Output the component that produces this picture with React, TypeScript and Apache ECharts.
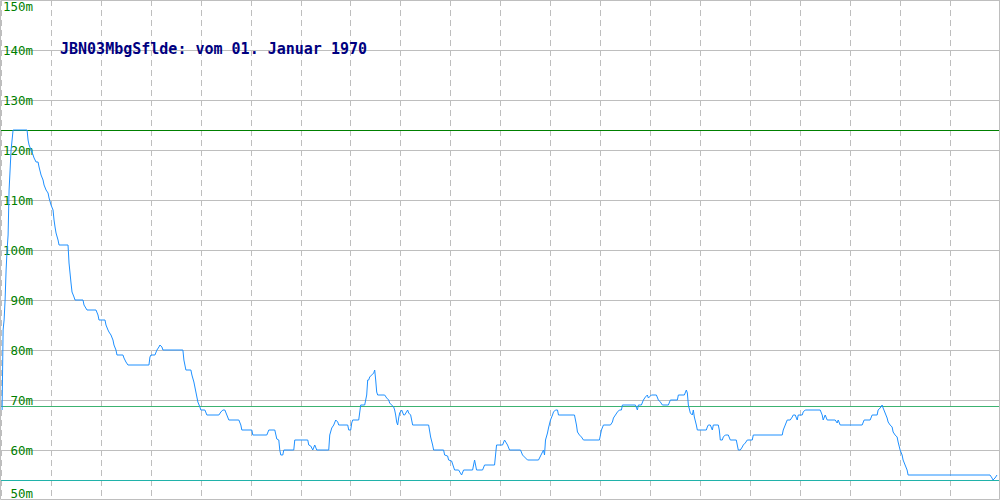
import React, { useEffect, useRef } from "react";
import * as echarts from "echarts";

const titleText = "JBN03MbgSflde: vom 01. Januar 1970";

const yTicks = [50, 60, 70, 80, 90, 100, 110, 120, 130, 140, 150];
const unitSuffix = "m";

// time index of each sample
const times = [
  1, 2, 3, 4, 5, 6, 7, 8, 9, 10, 11, 12, 26, 27, 28, 30, 32, 33, 35, 37, 38, 40, 42, 43, 45, 47, 48, 50,
  52, 53, 54, 55, 57, 58, 67, 68, 69, 70, 71, 73, 74, 82, 83, 86, 95, 97, 98, 104, 105, 107, 108, 110,
  112, 113, 115, 116, 122, 123, 125, 127, 148, 149, 150, 154, 156, 158, 159, 161, 162, 182, 183, 185,
  190, 191, 193, 194, 195, 196, 197, 199, 200, 204, 206, 218, 220, 222, 224, 226, 228, 238, 240, 241,
  251, 252, 266, 268, 274, 276, 278, 279, 280, 282, 283, 293, 294, 307, 308, 310, 312, 314, 316, 328,
  329, 331, 333, 335, 337, 338, 347, 348, 350, 351, 352, 358, 360, 364, 366, 367, 368, 369, 371, 373,
  374, 375, 376, 377, 384, 386, 388, 389, 391, 393, 394, 395, 396, 397, 398, 399, 401, 403, 404, 407,
  408, 410, 412, 428, 430, 432, 433, 443, 444, 447, 448, 451, 453, 454, 458, 461, 463, 472, 474, 476,
  482, 484, 494, 496, 502, 504, 507, 509, 520, 522, 524, 527, 538, 542, 543, 544, 545, 547, 548, 550,
  552, 553, 555, 557, 558, 574, 576, 577, 579, 581, 583, 599, 601, 603, 610, 612, 613, 615, 617, 619,
  621, 622, 635, 637, 638, 641, 643, 645, 647, 648, 651, 656, 658, 660, 662, 668, 670, 677, 678, 684,
  686, 687, 688, 690, 692, 693, 694, 696, 697, 706, 707, 708, 710, 712, 713, 718, 719, 720, 722, 723,
  725, 728, 730, 736, 737, 738, 740, 742, 743, 745, 747, 752, 753, 782, 783, 785, 787, 790, 792, 793,
  795, 797, 798, 802, 803, 805, 820, 822, 823, 825, 827, 835, 837, 838, 840, 862, 864, 870, 872, 877,
  878, 880, 882, 883, 885, 887, 888, 890, 892, 893, 895, 897, 898, 900, 902, 903, 905, 907, 908, 990,
  992, 993, 995, 997,
];

// elevation in metres
const elevation = [
  68, 84, 86, 90, 96, 100, 103, 112, 116, 120, 122, 124, 124, 122, 121, 120, 119, 118.4, 117.6, 117.6,
  116.6, 115, 114, 113, 112, 111.4, 110.4, 109, 108, 106, 104.6, 103.4, 102, 101, 101, 97.4, 95.4, 93.4,
  91.6, 90.6, 90, 90, 89, 88, 88, 87, 86, 86, 85, 84, 83.6, 83, 82, 81, 80, 79, 79, 78.4, 77.6, 77, 77,
  78.6, 79, 79, 80, 80.6, 81, 80.6, 80, 80, 78, 76, 76, 75, 73.6, 72.6, 71.6, 70.6, 69.6, 68.6, 68, 68,
  67, 67, 67.6, 68, 68, 67, 66, 66, 65, 64, 64, 63, 63, 64, 64, 62.2, 62, 60, 59, 59, 60, 60, 62, 62,
  61, 60.8, 60, 61, 60, 60, 63, 64.4, 65, 66, 65.6, 65, 65, 64, 64, 65.4, 66, 66, 69, 69, 71, 74, 74,
  74.6, 75, 75.4, 76, 74, 71.6, 71, 71, 70.4, 70, 69.4, 69, 68.6, 68, 67, 65.6, 65, 66.4, 67.4, 68, 67,
  67, 68, 67.4, 67, 65, 65, 62.6, 61, 60, 60, 59, 58.8, 58, 57.8, 56.6, 56, 56, 55, 56, 56, 58, 56, 56,
  57, 57, 61, 61, 62, 61, 60, 60, 59, 58.6, 58, 58, 59.6, 60, 59, 62, 63.4, 64.4, 66, 67, 67.6, 68, 68,
  67, 67, 65, 63.6, 63, 62.6, 62, 62, 64, 65, 65, 65.6, 66.4, 67, 67.6, 68, 68, 69, 69, 68, 69, 69, 70,
  70.6, 71, 70.4, 71, 71, 70, 69.6, 69, 69, 70, 70, 71, 71, 72, 71.4, 69, 67.4, 67, 68, 66.6, 65, 64,
  64, 64.6, 65, 65, 64, 65, 65, 64, 62, 62, 62.6, 63, 63, 62, 62, 61, 60, 60, 60.6, 61, 61.4, 62, 62,
  63, 63, 64, 65, 66, 66, 66.6, 67, 67, 66, 67, 67, 67.6, 68, 68, 67, 66, 67, 66, 66, 65.4, 66, 65, 65,
  66, 66, 67, 67, 68, 68.4, 69, 68.4, 67.4, 66.4, 65.6, 65, 64.6, 63.6, 63, 62.6, 61.6, 60, 59, 58, 57,
  56, 55, 55, 54.4, 54, 54.4, 55,
];

// reference lines: maximum, mean, minimum
const refValues = [124, 68.7, 54];
const refColors = ["#008000", "#3cb371", "#20b2aa"];

export default function App() {
  const ref = useRef<HTMLDivElement>(null);
  useEffect(() => {
    if (!ref.current) return;
    const chart = echarts.init(ref.current, null, { renderer: "svg" });
    const mono = "DejaVu Sans Mono";
    chart.setOption({
      animation: false,
      backgroundColor: "#ffffff",
      title: {
        text: titleText,
        left: 60,
        top: 41,
        padding: 0,
        textStyle: {
          color: "#000080",
          fontFamily: mono,
          fontWeight: "bold",
          fontSize: 15,
        },
      },
      grid: { left: 0, right: 0, top: 0, bottom: 0, containLabel: false },
      xAxis: {
        type: "value",
        min: 0,
        max: 1000,
        interval: 50,
        axisLine: { show: false },
        axisTick: { show: false },
        axisLabel: { show: false },
        splitLine: {
          show: true,
          lineStyle: { color: "#bebebe", type: [6, 4], width: 1 },
        },
      },
      yAxis: {
        type: "value",
        min: yTicks[0],
        max: yTicks[yTicks.length - 1],
        interval: 10,
        axisLine: { show: false },
        axisTick: { show: false },
        axisLabel: {
          inside: true,
          margin: 32,
          align: "right",
          formatter: (v: number) => `${v}${unitSuffix}`,
          color: "#008000",
          fontFamily: mono,
          fontSize: 12.5,
          verticalAlignMinLabel: "bottom",
          verticalAlignMaxLabel: "top",
        },
        splitLine: { show: true, lineStyle: { color: "#bebebe", width: 1 } },
      },
      graphic: [
        {
          type: "rect",
          shape: { x: 0.5, y: 0.5, width: 999, height: 499 },
          style: { fill: "none", stroke: "#bebebe", lineWidth: 1 },
          z: 100,
          silent: true,
        },
      ],
      series: [
        {
          type: "line",
          data: times.map((t, i) => [t, elevation[i]]),
          symbol: "none",
          lineStyle: { color: "#1e90ff", width: 1 },
          z: 5,
          markLine: {
            silent: true,
            symbol: "none",
            label: { show: false },
            data: refValues.map((v, i) => ({
              yAxis: v,
              lineStyle: { color: refColors[i], width: 1, type: "solid" },
            })),
          },
        },
      ],
    });
    return () => chart.dispose();
  }, []);
  return (
    <div
      ref={ref}
      style={{ position: "absolute", left: 0, top: 0, width: 1000, height: 500 }}
    />
  );
}
